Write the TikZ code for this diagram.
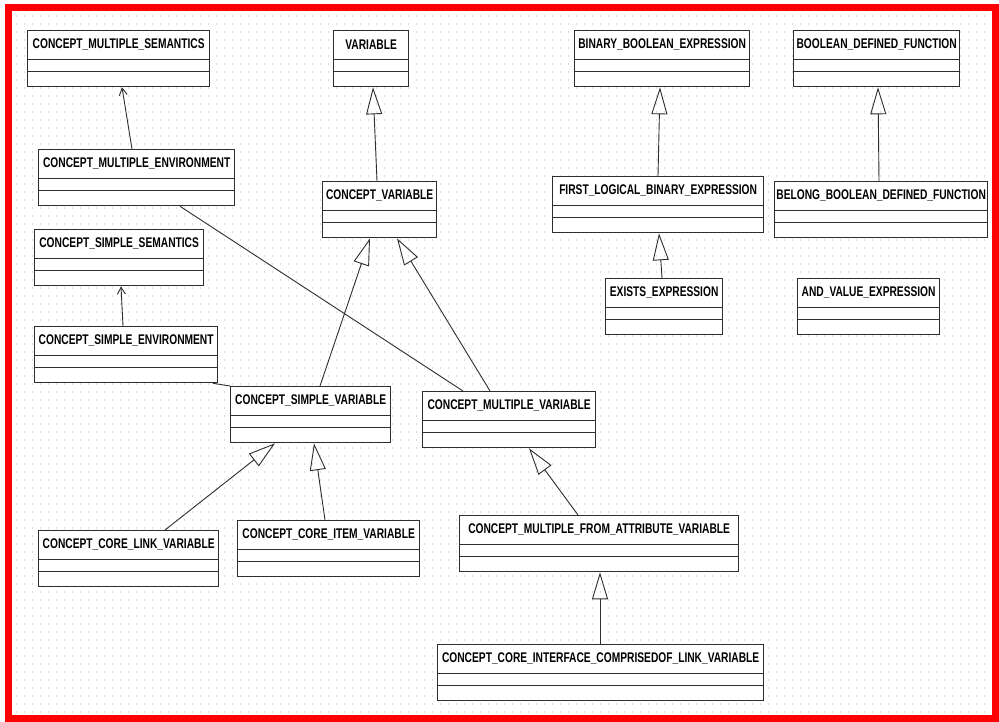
\documentclass[tikz,border=0pt]{standalone}
\usepackage{fontspec}
\newfontfamily\umlfont{Liberation Sans Bold}[FakeStretch=0.73]
\usetikzlibrary{arrows.meta,calc}
\definecolor{lineC}{HTML}{2E2E2E}
\definecolor{dotC}{HTML}{DCDCDC}
\tikzset{
  clsbox/.style={draw=lineC, line width=1.3pt, fill=white, rectangle, inner sep=0pt, anchor=north west, minimum height=56pt},
  clstext/.style={font=\umlfont\fontsize{14}{14}\selectfont, text=black, inner sep=0pt},
  divider/.style={draw=lineC, line width=1.3pt},
  gen/.style={draw=lineC, line width=0.9pt, -{Triangle[open, length=27pt, width=16pt, line width=0.9pt]}},
  dep/.style={draw=lineC, line width=0.9pt, -{Straight Barb[length=7pt, width=8pt, line width=0.9pt]}},
  assoc/.style={draw=lineC, line width=0.9pt},
  dotline/.style={draw=dotC, line width=1.1pt, dash pattern=on 1.1pt off 6.9pt}
}
\newcommand\umlcls[5]{%
  \node[clsbox, minimum width=#4pt] (#1) at (#2,#3) {};
  \node[clstext] (#1-t) at ($(#1.north)+(0,14.75)$) {#5};
  \draw[divider] ([yshift=-29.5pt]#1.north west) -- ([yshift=-29.5pt]#1.north east);
  \draw[divider] ([yshift=-41.5pt]#1.north west) -- ([yshift=-41.5pt]#1.north east);
}
\begin{document}
\begin{tikzpicture}[x=1pt,y=-1pt]
\useasboundingbox (0,0) rectangle (999,722);
\fill[white] (0,0) rectangle (999,722);
% dotted grid
\foreach \yy in {16,24,...,712} { \draw[dotline] (16,\yy) -- (992,\yy); }
% red frame
\draw[red, line width=7pt] (8.5,7.5) rectangle (995.5,718.5);

% classes
\umlcls{cmsem}{27}{30}{182}{CONCEPT\_MULTIPLE\_SEMANTICS}
\umlcls{var}{333}{30}{75}{VARIABLE}
\umlcls{bbe}{574}{30}{175}{BINARY\_BOOLEAN\_EXPRESSION}
\umlcls{bdf}{793}{30}{166}{BOOLEAN\_DEFINED\_FUNCTION}
\umlcls{cmenv}{38}{149}{196}{CONCEPT\_MULTIPLE\_ENVIRONMENT}
\umlcls{cvar}{322}{181}{114}{CONCEPT\_VARIABLE}
\umlcls{flbe}{552}{176}{211}{FIRST\_LOGICAL\_BINARY\_EXPRESSION}
\umlcls{bbdf}{774}{181}{213}{BELONG\_BOOLEAN\_DEFINED\_FUNCTION}
\umlcls{cssem}{34}{229}{169}{CONCEPT\_SIMPLE\_SEMANTICS}
\umlcls{exists}{605}{278}{117}{EXISTS\_EXPRESSION}
\umlcls{andv}{797}{278}{142}{AND\_VALUE\_EXPRESSION}
\umlcls{csenv}{34}{326}{183}{CONCEPT\_SIMPLE\_ENVIRONMENT}
\umlcls{csvar}{230}{386}{160}{CONCEPT\_SIMPLE\_VARIABLE}
\umlcls{cmvar}{422}{391}{173}{CONCEPT\_MULTIPLE\_VARIABLE}
\umlcls{cclink}{38}{530}{180}{CONCEPT\_CORE\_LINK\_VARIABLE}
\umlcls{ccitem}{237}{520}{182}{CONCEPT\_CORE\_ITEM\_VARIABLE}
\umlcls{cmfav}{459}{515}{279}{CONCEPT\_MULTIPLE\_FROM\_ATTRIBUTE\_VARIABLE}
\umlcls{cci}{437}{644}{326}{CONCEPT\_CORE\_INTERFACE\_COMPRISEDOF\_LINK\_VARIABLE}

% connectors
\draw[dep] ([xshift=94pt]cmenv.north west) -- ([xshift=95pt]cmsem.south west);
\draw[dep] ([xshift=89pt]csenv.north west) -- ([xshift=87pt]cssem.south west);
\draw[gen] ([xshift=55pt]cvar.north west) -- ([xshift=40pt]var.south west);
\draw[gen] ([xshift=90pt]csvar.north west) -- ([xshift=48pt]cvar.south west);
\draw[gen] ([xshift=68pt]cmvar.north west) -- ([xshift=75pt]cvar.south west);
\draw[assoc] ([xshift=142pt]cmenv.south west) -- ([xshift=41pt]cmvar.north west);
\draw[assoc] ([xshift=179pt]csenv.south west) -- (csvar.north west);
\draw[gen] ([xshift=106pt]flbe.north west) -- ([xshift=86pt]bbe.south west);
\draw[gen] ([xshift=105pt]bbdf.north west) -- ([xshift=85pt]bdf.south west);
\draw[gen] ([xshift=57pt]exists.north west) -- ([xshift=107pt]flbe.south west);
\draw[gen] ([xshift=127pt]cclink.north west) -- ([xshift=45pt]csvar.south west);
\draw[gen] ([xshift=88pt]ccitem.north west) -- ([xshift=84pt]csvar.south west);
\draw[gen] ([xshift=119pt]cmfav.north west) -- ([xshift=107pt]cmvar.south west);
\draw[gen] ([xshift=163pt]cci.north west) -- ([xshift=141pt]cmfav.south west);
\end{tikzpicture}
\end{document}
